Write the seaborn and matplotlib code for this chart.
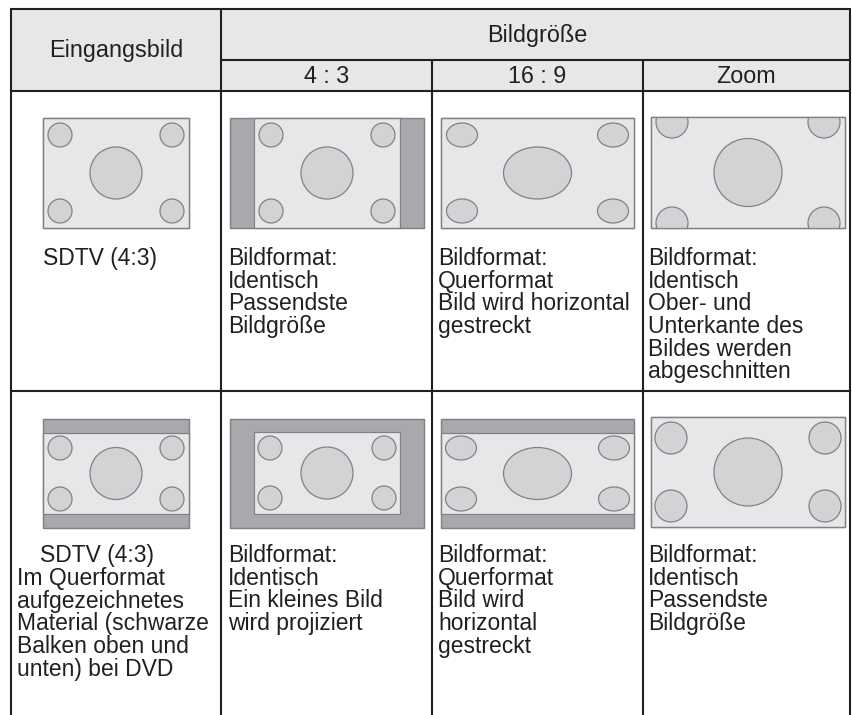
import matplotlib
matplotlib.use("Agg")
import matplotlib.pyplot as plt
from matplotlib.patches import Rectangle, Ellipse
import seaborn as sns

# table text
header_left = "Eingangsbild"
header_group = "Bildgröße"
size_modes = ["4 : 3", "16 : 9", "Zoom"]
input_row1 = "SDTV (4:3)"
input_row2_title = "SDTV (4:3)"
input_row2_body = "Im Querformat\naufgezeichnetes\nMaterial (schwarze\nBalken oben und\nunten) bei DVD"
results_row1 = [
    "Bildformat:\nIdentisch\nPassendste\nBildgröße",
    "Bildformat:\nQuerformat\nBild wird horizontal\ngestreckt",
    "Bildformat:\nIdentisch\nOber- und\nUnterkante des\nBildes werden\nabgeschnitten",
]
results_row2 = [
    "Bildformat:\nIdentisch\nEin kleines Bild\nwird projiziert",
    "Bildformat:\nQuerformat\nBild wird\nhorizontal\ngestreckt",
    "Bildformat:\nIdentisch\nPassendste\nBildgröße",
]

# layout (pixels)
col_edges = [11, 221, 432, 643, 850]
row_edges = [9, 60, 91, 391, 715]

# thumbnails: frame (x, y, w, h), content offset/size, corner inset, corner radii, centre radii
thumbs = [
    (43, 118, 146, 110, 0, 0, 146, 110, 17, 17, 12, 12, 26, 26),
    (230, 118, 194, 110, 24, 0, 146, 110, 17, 17, 12, 12, 26, 26),
    (441, 118, 193, 110, 0, 0, 193, 110, 21, 17, 15.5, 12, 34, 26),
    (651, 117, 194, 111, 0, 0, 194, 111, 21, 5, 16, 16, 34, 34),
    (43, 419, 146, 109, 0, 14, 146, 81, 17, 15, 12, 12, 26, 26),
    (230, 419, 194, 109, 24, 13, 146, 82, 16, 16, 12, 12, 26, 26),
    (441, 419, 193, 109, 0, 14, 193, 81, 20, 15, 15.5, 12, 34, 26),
    (651, 417, 194, 110, 0, 0, 194, 110, 20, 21, 16, 16, 34, 34),
]

sns.set_theme(style="white")
plt.rcParams["font.family"] = ["Liberation Sans", "DejaVu Sans"]

ink = "#231f20"
head_fill = "#e6e7e8"
bar_fill = "#a7a9ac"
screen_fill = "#e6e7e8"
disc_fill = "#d1d3d4"
edge = "#808285"

fig = plt.figure(figsize=(8.53, 7.15), dpi=100)
ax = fig.add_axes([0, 0, 1, 1])
ax.set_xlim(0, 853)
ax.set_ylim(715, 0)
ax.axis("off")

# header background
ax.add_patch(Rectangle((col_edges[0], row_edges[0]), col_edges[-1] - col_edges[0],
                       row_edges[2] - row_edges[0], facecolor=head_fill, edgecolor="none"))

lw = 1.5
# horizontal rules
ax.plot([col_edges[0], col_edges[-1]], [row_edges[0]] * 2, color=ink, lw=lw)
ax.plot([col_edges[1], col_edges[-1]], [row_edges[1]] * 2, color=ink, lw=lw)
ax.plot([col_edges[0], col_edges[-1]], [row_edges[2]] * 2, color=ink, lw=lw)
ax.plot([col_edges[0], col_edges[-1]], [row_edges[3]] * 2, color=ink, lw=lw)
# vertical rules
for i, x in enumerate(col_edges):
    top = row_edges[1] if i in (2, 3) else row_edges[0]
    ax.plot([x, x], [top, row_edges[-1]], color=ink, lw=lw)

# header text
hfs = 16.8
ax.text((col_edges[0] + col_edges[1]) / 2, (row_edges[0] + row_edges[2]) / 2 + 1, header_left,
        ha="center", va="center", fontsize=hfs, color=ink)
ax.text((col_edges[1] + col_edges[-1]) / 2 + 2, (row_edges[0] + row_edges[1]) / 2 + 1, header_group,
        ha="center", va="center", fontsize=hfs, color=ink)
for i, lab in enumerate(size_modes):
    ax.text((col_edges[i + 1] + col_edges[i + 2]) / 2, (row_edges[1] + row_edges[2]) / 2 + 1, lab,
            ha="center", va="center", fontsize=hfs, color=ink)


def draw_thumb(t):
    fx, fy, fw, fh, cx, cy, cw, ch, ix, iy, rx, ry, Rx, Ry = t
    frame = Rectangle((fx, fy), fw, fh, facecolor=bar_fill, edgecolor=edge, lw=0.9, zorder=2)
    ax.add_patch(frame)
    content = Rectangle((fx + cx, fy + cy), cw, ch, facecolor=screen_fill, edgecolor=edge, lw=0.9, zorder=3)
    ax.add_patch(content)
    x0, y0 = fx + cx, fy + cy
    centres = [(x0 + ix, y0 + iy), (x0 + cw - ix, y0 + iy),
               (x0 + ix, y0 + ch - iy), (x0 + cw - ix, y0 + ch - iy)]
    for (ex, ey) in centres:
        e = Ellipse((ex, ey), 2 * rx, 2 * ry, facecolor=disc_fill, edgecolor=edge, lw=0.9, zorder=4)
        ax.add_patch(e)
        e.set_clip_path(content)
    e = Ellipse((x0 + cw / 2, y0 + ch / 2), 2 * Rx, 2 * Ry, facecolor=disc_fill, edgecolor=edge, lw=0.9, zorder=4)
    ax.add_patch(e)
    e.set_clip_path(content)
    ax.add_patch(Rectangle((fx, fy), fw, fh, facecolor="none", edgecolor=edge, lw=0.9, zorder=5))


for t in thumbs:
    draw_thumb(t)

# body text
bfs = 16.5
ls = 0.98
ax.text(43, 247, input_row1, ha="left", va="top", fontsize=bfs, color=ink, linespacing=ls)
text_x = [228, 438, 648]
for x, s in zip(text_x, results_row1):
    ax.text(x, 247, s, ha="left", va="top", fontsize=bfs, color=ink, linespacing=ls)

ax.text(40, 544, input_row2_title, ha="left", va="top", fontsize=bfs, color=ink, linespacing=ls)
ax.text(17, 567, input_row2_body, ha="left", va="top", fontsize=bfs, color=ink, linespacing=ls)
for x, s in zip(text_x, results_row2):
    ax.text(x, 544, s, ha="left", va="top", fontsize=bfs, color=ink, linespacing=ls)

fig.savefig("out.png", dpi=100)
